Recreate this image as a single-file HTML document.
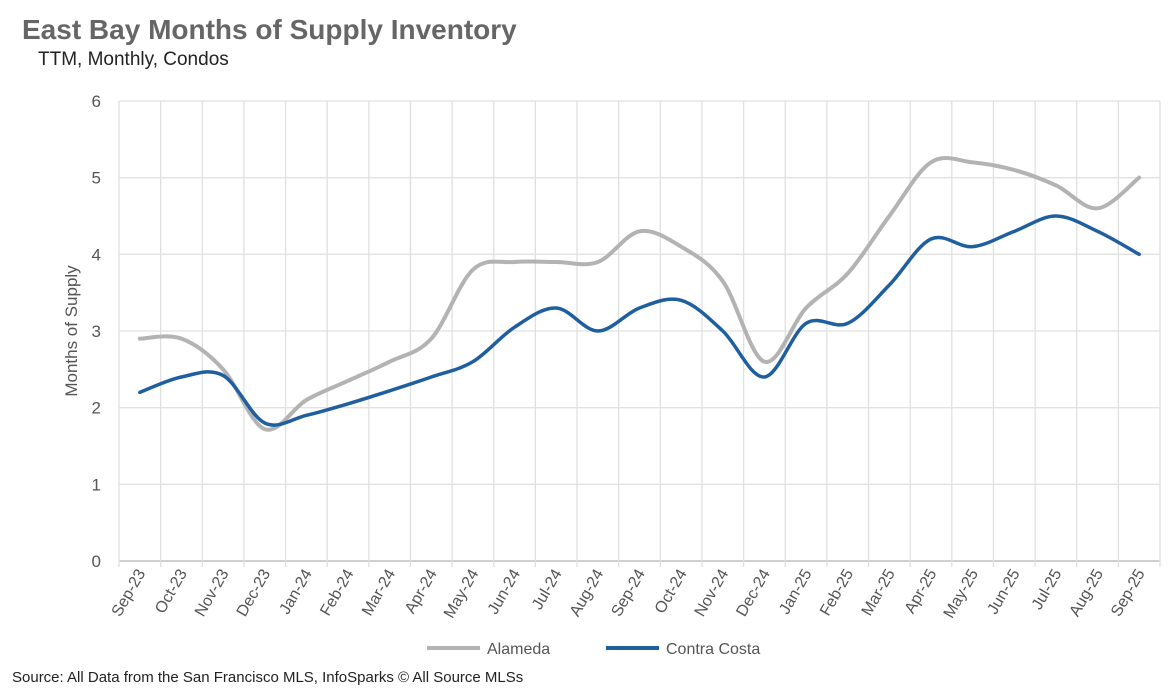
<!DOCTYPE html>
<html><head><meta charset="utf-8"><style>
body{margin:0;background:#fff;font-family:"Liberation Sans",sans-serif;}
</style></head><body>
<svg width="1176" height="688" xmlns="http://www.w3.org/2000/svg" font-family="Liberation Sans, sans-serif">
<rect width="1176" height="688" fill="#fff"/>
<text x="22" y="39" font-size="28" font-weight="bold" fill="#666">East Bay Months of Supply Inventory</text>
<text x="38" y="65" font-size="19" fill="#222">TTM, Monthly, Condos</text>
<text transform="translate(77,331) rotate(-90)" text-anchor="middle" font-size="17" fill="#555">Months of Supply</text>
<g id="grid"></g><g id="ylab"></g><g id="xlab"></g><g id="lines"></g>
<g>
<line x1="427" y1="648" x2="480" y2="648" stroke="#b3b3b3" stroke-width="4"/>
<text x="487" y="654" font-size="16" fill="#555">Alameda</text>
<line x1="606" y1="648" x2="659" y2="648" stroke="#1f5fa0" stroke-width="4"/>
<text x="666" y="654" font-size="16" fill="#555">Contra Costa</text>
</g>
<text x="12" y="682" font-size="15" fill="#222">Source: All Data from the San Francisco MLS, InfoSparks © All Source MLSs</text>
</svg>
<script>
const categories=["Sep-23","Oct-23","Nov-23","Dec-23","Jan-24","Feb-24","Mar-24","Apr-24","May-24","Jun-24","Jul-24","Aug-24","Sep-24","Oct-24","Nov-24","Dec-24","Jan-25","Feb-25","Mar-25","Apr-25","May-25","Jun-25","Jul-25","Aug-25","Sep-25"];
const alameda=[2.9,2.9,2.5,1.72,2.1,2.35,2.6,2.9,3.8,3.9,3.9,3.9,4.3,4.1,3.65,2.6,3.3,3.75,4.5,5.2,5.2,5.1,4.9,4.6,5.0];
const contraCosta=[2.2,2.4,2.42,1.8,1.9,2.05,2.22,2.4,2.6,3.05,3.3,3.0,3.3,3.4,3.0,2.4,3.1,3.1,3.6,4.2,4.1,4.3,4.5,4.3,4.0];
const yTicks=[0,1,2,3,4,5,6];
const NS="http://www.w3.org/2000/svg";
const L=119,R=1160,T=101,B=561,ymax=6;
const step=(R-L)/categories.length;
const xs=i=>L+step*(i+0.5);
const ys=v=>B-(B-T)*v/ymax;
function mk(tag,attrs,parent){const e=document.createElementNS(NS,tag);for(const k in attrs)e.setAttribute(k,attrs[k]);document.getElementById(parent).appendChild(e);return e;}
yTicks.forEach(t=>{
 const g=mk('line',{x1:L,x2:R,y1:ys(t),y2:ys(t),stroke:t===0?'#d0d0d0':'#e2e2e2','stroke-width':t===0?2:1.3},'grid');
 
 
 const tx=mk('text',{x:101,y:ys(t)+6,'text-anchor':'end','font-size':17,fill:'#555'},'ylab');tx.textContent=t;
 
 
});
for(let i=0;i<=categories.length;i++){
 const x=L+step*i;
 const g=mk('line',{x1:x,x2:x,y1:T,y2:B+6,stroke:'#e0e0e0','stroke-width':1.3},'grid');
 
 
}
categories.forEach((c,i)=>{
 const x=xs(i)+6,y=B+12;
 const tx=mk('text',{transform:`translate(${x},${y}) rotate(-60)`,'text-anchor':'end','font-size':16,fill:'#555'},'xlab');tx.textContent=c;
 
 
});
function path(vals){
 const p=vals.map((v,i)=>[xs(i),ys(v)]);
 let d=`M${p[0][0]},${p[0][1]}`;
 for(let i=0;i<p.length-1;i++){
  const p0=p[i-1]||p[i],p1=p[i],p2=p[i+1],p3=p[i+2]||p2;
  const k=1/6;
  d+=` C${p1[0]+(p2[0]-p0[0])*k},${p1[1]+(p2[1]-p0[1])*k} ${p2[0]-(p3[0]-p1[0])*k},${p2[1]-(p3[1]-p1[1])*k} ${p2[0]},${p2[1]}`;
 }
 return d;
}
const a=mk('path',{d:path(alameda),fill:'none',stroke:'#b3b3b3','stroke-width':4,'stroke-linecap':'round'},'lines');


const c=mk('path',{d:path(contraCosta),fill:'none',stroke:'#1f5fa0','stroke-width':3.5,'stroke-linecap':'round'},'lines');


</script>
</body></html>
